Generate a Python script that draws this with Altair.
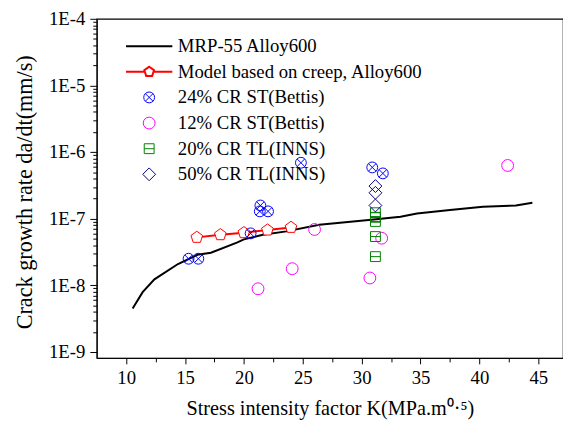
import altair as alt
import pandas as pd

FONT = "Liberation Serif"

# ---- data ----
mrp_K = [10.55, 11.4, 12.4, 14.4, 16.05, 17.2, 19.4, 20.0, 21.6, 23.6, 26.4, 30.6, 33.3, 34.7, 37.5, 40.3, 43.1, 44.5]
mrp_rate = [4.5e-9, 7.9e-9, 1.23e-8, 2.09e-8, 2.88e-8, 3.09e-8, 4.37e-8, 4.9e-8, 5.75e-8, 6.46e-8, 8.13e-8,
            9.55e-8, 1.07e-7, 1.20e-7, 1.35e-7, 1.51e-7, 1.58e-7, 1.74e-7]

model_K = [16.0, 18.0, 20.0, 22.0, 24.0]
model_rate = [5.25e-8, 5.75e-8, 6.17e-8, 6.76e-8, 7.41e-8]

cr24_K = [15.3, 16.13, 20.57, 21.4, 21.35, 22.05, 24.84, 30.9, 31.8]
cr24_rate = [2.51e-8, 2.51e-8, 6.03e-8, 1.58e-7, 1.29e-7, 1.29e-7, 6.92e-7, 5.89e-7, 4.79e-7]

cr12_K = [21.2, 24.1, 26.0, 30.7, 31.7, 42.4]
cr12_rate = [8.9e-9, 1.78e-8, 6.9e-8, 1.29e-8, 5.1e-8, 6.3e-7]

cr20_K = [31.17, 31.17, 31.17, 31.17, 31.17]
cr20_rate = [1.23e-7, 1.05e-7, 9.1e-8, 5.4e-8, 2.7e-8]

cr50_K = [31.17, 31.17, 31.17]
cr50_rate = [3.09e-7, 2.45e-7, 1.58e-7]

series_names = ["MRP-55 Alloy600", "Model based on creep, Alloy600", "24% CR ST(Bettis)",
                "12% CR ST(Bettis)", "20% CR TL(INNS)", "50% CR TL(INNS)"]
series_colors = ["#000000", "#FF0000", "#0000FF", "#FF00FF", "#008000", "#000080"]

x_major = [10, 15, 20, 25, 30, 35, 40, 45]
x_minor = [12.5, 17.5, 22.5, 27.5, 32.5, 37.5, 42.5]
y_major = [1e-9, 1e-8, 1e-7, 1e-6, 1e-5, 1e-4]
y_minor = [2e-9, 3e-9, 4e-9, 5e-9, 6e-9, 7e-9, 8e-9, 9e-9,
           2e-8, 3e-8, 4e-8, 5e-8, 6e-8, 7e-8, 8e-8, 9e-8,
           2e-7, 3e-7, 4e-7, 5e-7, 6e-7, 7e-7, 8e-7, 9e-7,
           2e-6, 3e-6, 4e-6, 5e-6, 6e-6, 7e-6, 8e-6, 9e-6,
           2e-5, 3e-5, 4e-5, 5e-5, 6e-5, 7e-5, 8e-5, 9e-5]

# ---- symbol shapes ----
PENT = "M0,-1L0.951,-0.309L0.588,0.809L-0.588,0.809L-0.951,-0.309Z"
LINE_SYM = "M-1,0H1"
MODEL_SYM = "M-1,0H-0.2M0.2,0H1M0,-0.22L0.209,-0.068L0.129,0.178L-0.129,0.178L-0.209,-0.068Z"
OTIMES = "M-1,0A1,1,0,1,0,1,0A1,1,0,1,0,-1,0M-0.707,-0.707L0.707,0.707M-0.707,0.707L0.707,-0.707"
BOXMINUS = "M-1,-1H1V1H-1ZM-1,0H1"
series_shapes = [LINE_SYM, MODEL_SYM, OTIMES, "circle", BOXMINUS, "diamond"]
series_sizes = [2209, 2209, 121, 144, 100, 169]
series_strokes = [2, 2, 1, 1, 1, 1]

mrp_df = pd.DataFrame({"K": mrp_K, "rate": mrp_rate})
model_df = pd.DataFrame({"K": model_K, "rate": model_rate})
rows = []
for name, ks, rs in [(series_names[2], cr24_K, cr24_rate), (series_names[3], cr12_K, cr12_rate),
                     (series_names[4], cr20_K, cr20_rate), (series_names[5], cr50_K, cr50_rate)]:
    for k, r in zip(ks, rs):
        rows.append({"series": name, "K": k, "rate": r})
pts_df = pd.DataFrame(rows)

xscale = alt.Scale(domain=[7.5, 47.1], nice=False, zero=False)
yscale = alt.Scale(type="log", domain=[8.15e-10, 1e-4], nice=False)

x_main = alt.Axis(values=x_major, format="d", orient="bottom", tickSize=6, labelPadding=5,
                  title="Stress intensity factor K(MPa.m⁰·⁵)", titlePadding=11, titleFontSize=20.5)
y_main = alt.Axis(values=y_major, orient="left", tickSize=7, labelPadding=5,
                  labelExpr="'1E' + round(log(datum.value)/LN10)",
                  title="Crack growth rate da/dt(mm/s)", titleFontSize=22.5, titleX=-61, titleY=175.5)
x_min = alt.Axis(values=x_minor, orient="bottom", tickSize=4, labels=False, domain=False, title=None)
y_min = alt.Axis(values=y_minor, orient="left", tickSize=4, labels=False, domain=False, title=None)

leg = alt.Legend(title=None, orient="none", legendX=28.7, legendY=15.0, columns=1,
                 clipHeight=25.5, rowPadding=0, labelOffset=4.6, labelLimit=500,
                 labelFont=FONT, labelFontSize=19, labelColor="#000000", padding=0)

mrp_line = alt.Chart(mrp_df).mark_line(color="#000000", strokeWidth=2).encode(
    x=alt.X("K:Q", scale=xscale, axis=x_min),
    y=alt.Y("rate:Q", scale=yscale, axis=y_min),
)

model_line = alt.Chart(model_df).mark_line(color="#FF0000", strokeWidth=2).encode(
    x=alt.X("K:Q", scale=xscale, axis=None),
    y=alt.Y("rate:Q", scale=yscale, axis=None),
)

model_pts = alt.Chart(model_df).mark_point(shape=PENT, size=155, filled=True, fill="#FFFFFF",
                                           stroke="#FF0000", strokeWidth=1, opacity=1).encode(
    x=alt.X("K:Q", scale=xscale, axis=None),
    y=alt.Y("rate:Q", scale=yscale, axis=None),
)

markers = alt.Chart(pts_df).mark_point(filled=False, opacity=1).encode(
    x=alt.X("K:Q", scale=xscale, axis=x_main),
    y=alt.Y("rate:Q", scale=yscale, axis=y_main),
    shape=alt.Shape("series:N", scale=alt.Scale(type="ordinal", domain=series_names, range=series_shapes), legend=leg),
    color=alt.Color("series:N", scale=alt.Scale(type="ordinal", domain=series_names, range=series_colors), legend=leg),
    size=alt.Size("series:N", scale=alt.Scale(type="ordinal", domain=series_names, range=series_sizes), legend=leg),
    strokeWidth=alt.StrokeWidth("series:N", scale=alt.Scale(type="ordinal", domain=series_names, range=series_strokes), legend=leg),
)

chart = alt.layer(mrp_line, model_line, model_pts, markers).resolve_axis(
    x="independent", y="independent"
).properties(
    width=473, height=344,
    autosize=alt.AutoSizeParams(type="none"),
    padding={"left": 90, "top": 8, "right": 0, "bottom": 60},
    background="#FFFFFF",
).configure_view(
    stroke="#000000", strokeWidth=1.2
).configure_axis(
    grid=False, domainColor="#000000", tickColor="#000000", domainWidth=1, tickWidth=1,
    labelFont=FONT, labelFontSize=19, labelColor="#000000",
    titleFont=FONT, titleFontSize=19, titleColor="#000000", titleFontWeight="normal",
)

chart.save("out.html", embed_options={"renderer": "svg", "actions": False})
